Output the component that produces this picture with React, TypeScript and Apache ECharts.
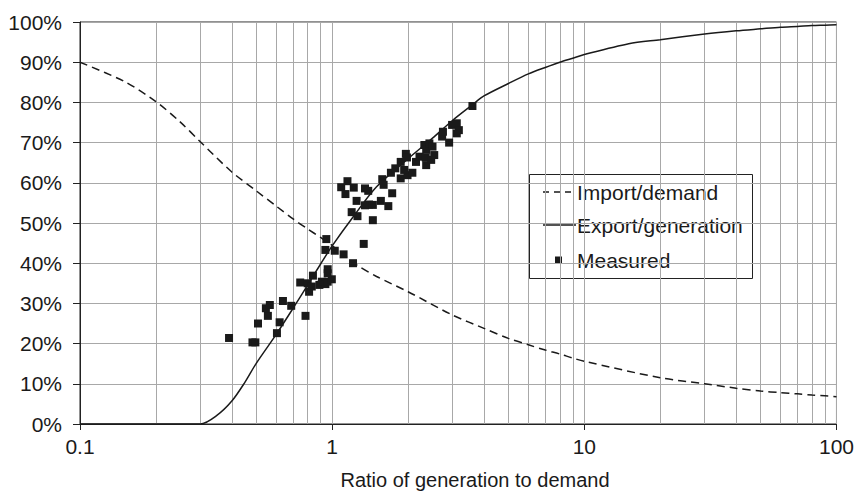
import React, { useEffect, useRef } from "react";
import * as echarts from "echarts";

const X_TICKS = [0.1, 1, 10, 100];
const MINOR_X = [0.2, 0.3, 0.4, 0.5, 0.6, 0.7, 0.8, 0.9, 2, 3, 4, 5, 6, 7, 8, 9, 20, 30, 40, 50, 60, 70, 80, 90];

const importX = [0.1, 0.15, 0.2, 0.25, 0.3, 0.4, 0.5, 0.6, 0.7, 0.8, 0.9, 1, 1.25, 1.5, 2, 3, 4, 5, 6, 7, 8, 9, 10, 20, 30, 40, 50, 60, 70, 80, 90, 100];
const importY = [90, 85.2, 80.2, 75.1, 70.2, 62.7, 58.0, 54.2, 51.0, 48.5, 46.4, 44.4, 39.6, 36.7, 32.9, 27.1, 23.8, 21.3, 19.7, 18.4, 17.4, 16.4, 15.6, 11.5, 10.0, 8.9, 8.2, 7.8, 7.5, 7.2, 7.0, 6.8];

const exportX = [0.1, 0.2, 0.3, 0.35, 0.4, 0.45, 0.5, 0.6, 0.7, 0.8, 0.9, 1, 1.2, 1.5, 2, 2.5, 3, 3.6, 4, 5, 6, 7, 8, 9, 10, 15, 20, 30, 40, 50, 60, 70, 80, 90, 100];
const exportY = [0, 0, 0, 2.2, 5.7, 10.3, 15.1, 22.3, 28.8, 34.6, 39.8, 44.3, 51.2, 59.0, 66.0, 71.1, 75.5, 79.4, 81.6, 84.7, 87.1, 88.7, 90.0, 91.0, 91.9, 94.6, 95.6, 97.0, 97.8, 98.3, 98.7, 98.9, 99.1, 99.2, 99.3];

const measuredX = [0.39, 0.483, 0.496, 0.508, 0.604, 0.619, 0.556, 0.546, 0.566, 0.638, 0.688, 0.784, 0.747, 0.80, 0.81, 0.839, 0.83, 0.89, 0.91, 0.94, 0.96, 0.997, 0.96, 0.96, 0.948, 0.94, 1.024, 1.11, 1.21, 1.334, 1.45, 1.195, 1.26, 1.086, 1.129, 1.15, 1.218, 1.25, 1.35, 1.39, 1.35, 1.40, 1.45, 1.56, 1.67, 1.73, 1.58, 1.60, 1.71, 1.78, 1.87, 1.87, 1.96, 1.98, 1.99, 2.08, 1.93, 2.15, 2.22, 2.32, 2.36, 2.35, 2.43, 2.50, 2.54, 2.36, 2.47, 2.73, 2.75, 2.91, 2.99, 3.12, 3.18, 3.12, 3.60];
const measuredY = [21.4, 20.3, 20.3, 25.0, 22.6, 25.3, 26.9, 28.8, 29.6, 30.6, 29.4, 26.9, 35.2, 35.0, 32.9, 36.9, 34.2, 34.6, 35.4, 34.8, 35.4, 36.0, 38.5, 37.5, 46.0, 43.3, 43.1, 42.2, 40.0, 44.8, 50.7, 52.7, 51.7, 58.9, 57.2, 60.4, 58.8, 55.5, 58.6, 58.0, 54.4, 54.6, 54.5, 55.5, 54.2, 57.4, 60.9, 59.5, 62.5, 63.6, 61.1, 65.2, 67.2, 66.3, 61.9, 62.5, 63.2, 65.2, 66.5, 69.4, 68.2, 66.3, 69.8, 69.0, 66.9, 64.4, 65.7, 71.5, 72.7, 70.0, 74.4, 74.8, 73.1, 72.3, 79.1];

const LEGEND = ["Import/demand", "Export/generation", "Measured"];
const X_TITLE = "Ratio of generation to demand";

const FONT = "'Liberation Sans', Arial, Helvetica, sans-serif";
const INK = "#1a1a1a";
const GRID = "#a8a8a8";

export default function App() {
  const ref = useRef<HTMLDivElement>(null);
  useEffect(() => {
    if (!ref.current) return;
    const chart = echarts.init(ref.current, undefined, { renderer: "svg" });
    const zip = (xs: number[], ys: number[]) => xs.map((x, i) => [x, ys[i]]);
    chart.setOption({
      animation: false,
      backgroundColor: "#fff",
      textStyle: { fontFamily: FONT },
      grid: { left: 80, right: 19, top: 22, bottom: 68, show: true, borderColor: "#222", borderWidth: 1, backgroundColor: "transparent" },
      xAxis: {
        type: "log",
        logBase: 10,
        min: 0.1,
        max: 100,
        axisLine: { show: true, lineStyle: { color: "#222", width: 1 } },
        axisTick: { show: true, length: 6, lineStyle: { color: "#222" } },
        axisLabel: {
          fontSize: 21,
          color: INK,
          fontFamily: FONT,
          margin: 12,
          formatter: (v: number) => {
            const m = X_TICKS.find((t) => Math.abs(t - v) / t < 1e-6);
            return m === undefined ? "" : String(m);
          },
        },
        splitLine: { show: true, lineStyle: { color: GRID, width: 1 } },
        minorTick: { show: false },
      },
      yAxis: {
        type: "value",
        min: 0,
        max: 100,
        interval: 10,
        axisLine: { show: true, lineStyle: { color: "#222", width: 1 } },
        axisTick: { show: true, length: 7, lineStyle: { color: "#222" } },
        axisLabel: { fontSize: 21, color: INK, fontFamily: FONT, margin: 18, formatter: "{value}%" },
        splitLine: { show: true, lineStyle: { color: GRID, width: 1 } },
      },
      series: [
        {
          name: LEGEND[0],
          type: "line",
          data: zip(importX, importY),
          smooth: 0.3,
          symbol: "none",
          lineStyle: { color: INK, width: 1.5, type: [8, 5] },
          z: 3,
          markLine: {
            silent: true,
            symbol: ["none", "none"],
            label: { show: false },
            lineStyle: { color: GRID, width: 1, type: "solid" },
            data: MINOR_X.map((v) => ({ xAxis: v })),
            z: 1,
          },
        },
        {
          name: LEGEND[1],
          type: "line",
          data: zip(exportX, exportY),
          smooth: 0.3,
          symbol: "none",
          lineStyle: { color: INK, width: 1.5 },
          z: 3,
        },
        {
          name: LEGEND[2],
          type: "scatter",
          data: zip(measuredX, measuredY),
          symbol: "rect",
          symbolSize: 8,
          itemStyle: { color: INK, opacity: 1 },
          z: 4,
        },
      ],
      graphic: [
        {
          type: "text",
          x: 475,
          y: 480,
          style: { text: X_TITLE, fontSize: 20, fontFamily: FONT, fill: INK, textAlign: "center", textVerticalAlign: "middle" },
        },
        {
          type: "group",
          z: 100,
          children: [
            { type: "rect", shape: { x: 529.5, y: 174.5, width: 223, height: 104 }, style: { fill: "#fff", stroke: "#222", lineWidth: 1 } },
            { type: "line", shape: { x1: 543, y1: 192, x2: 576, y2: 192 }, style: { stroke: INK, lineWidth: 1.3, lineDash: [6, 5] } },
            { type: "line", shape: { x1: 543, y1: 225, x2: 576, y2: 225 }, style: { stroke: INK, lineWidth: 1.3 } },
            { type: "rect", shape: { x: 555, y: 256.5, width: 7, height: 7 }, style: { fill: INK } },
            { type: "text", x: 577, y: 192, style: { text: LEGEND[0], fontSize: 21, fontFamily: FONT, fill: INK, textVerticalAlign: "middle" } },
            { type: "text", x: 577, y: 225, style: { text: LEGEND[1], fontSize: 21, fontFamily: FONT, fill: INK, textVerticalAlign: "middle" } },
            { type: "text", x: 577, y: 260, style: { text: LEGEND[2], fontSize: 21, fontFamily: FONT, fill: INK, textVerticalAlign: "middle" } },
          ],
        },
      ],
    });
    return () => chart.dispose();
  }, []);
  return <div ref={ref} style={{ width: 857, height: 492, position: "absolute", left: 0, top: 0 }} />;
}
